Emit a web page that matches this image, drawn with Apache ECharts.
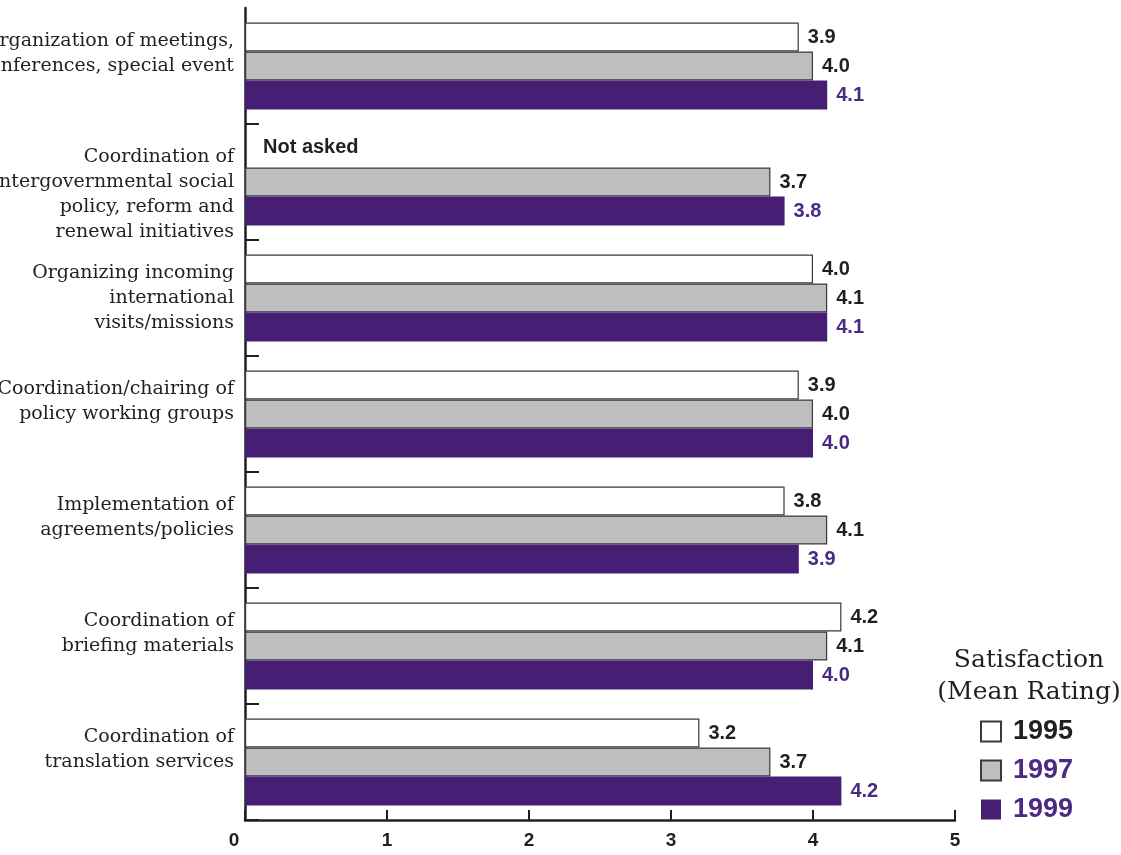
<!DOCTYPE html>
<html>
<head>
<meta charset="utf-8">
<script src="https://cdn.jsdelivr.net/npm/echarts@6/dist/echarts.min.js"></script>
<style>
  html, body { margin: 0; padding: 0; background: #fff; }
  #chart { width: 1121px; height: 855px; }
</style>
</head>
<body>
<div id="chart"></div>
<script>
// Service categories, listed top to bottom
const categories = [
  'Organization of meetings,\nconferences, special event',
  'Coordination of\nintergovernmental social\npolicy, reform and\nrenewal initiatives',
  'Organizing incoming\ninternational\nvisits/missions',
  'Coordination/chairing of\npolicy working groups',
  'Implementation of\nagreements/policies',
  'Coordination of\nbriefing materials',
  'Coordination of\ntranslation services'
];
const years = ['1995', '1997', '1999'];
// Mean satisfaction ratings per survey year (null = question not asked)
const rating1995 = [3.9, null, 4.0, 3.9, 3.8, 4.2, 3.2];
const rating1997 = [4.0, 3.7, 4.1, 4.0, 4.1, 4.1, 3.7];
const rating1999 = [4.1, 3.8, 4.1, 4.0, 3.9, 4.0, 4.2];
const xTicks = [0, 1, 2, 3, 4, 5];
const notAskedText = 'Not asked';
const legendTitle = 'Satisfaction\n(Mean Rating)';

const INK = '#231f20';
const PURPLE = '#461e74';
const PURPLE_TEXT = '#4b2a86';
const GREY = '#bcbec0';
const SANS = '"Liberation Sans", Arial, sans-serif';
const SERIF = '"DejaVu Serif", serif';
const LINE_H = 25;

// Spacer lines keep the first line of every category label at the same height
const spacerRich = {};
function categoryLabel(text) {
  const n = text.split('\n').length;
  const shift = (n - 3) * LINE_H / 2;       // + moves text down, - moves it up
  if (shift === 0) return text;
  const h = Math.round(Math.abs(shift) * 2) - (shift > 0 ? 3 : 0);
  const key = 'sp' + h;
  spacerRich[key] = { height: h, lineHeight: h, fontSize: 1 };
  return shift > 0 ? '{' + key + '| }\n' + text : text + '\n{' + key + '| }';
}

function valueLabel(color) {
  return {
    show: true,
    position: 'right',
    distance: 9,
    fontFamily: SANS,
    fontWeight: 'bold',
    fontSize: 20,
    color: color,
    formatter: function (p) { return Number(p.value).toFixed(1); }
  };
}

const chart = echarts.init(document.getElementById('chart'), null, { renderer: 'canvas' });

const tickFont = { fontFamily: SANS, fontWeight: 'bold', fontSize: 19, color: INK };

chart.setOption({
  animation: false,
  backgroundColor: '#ffffff',
  grid: { left: 245, top: 8, width: 710, height: 812, containLabel: false, outerBoundsMode: 'none' },
  xAxis: {
    type: 'value',
    min: xTicks[0],
    max: xTicks[xTicks.length - 1],
    interval: 1,
    splitLine: { show: false },
    axisLine: { show: true, lineStyle: { color: INK, width: 2.5 } },
    axisTick: { show: true, inside: true, length: 10, lineStyle: { color: INK, width: 2 } },
    axisLabel: Object.assign({
      margin: 11,
      formatter: function (v) { return v === xTicks[0] ? '{z|' + v + '}' : String(v); },
      rich: { z: Object.assign({ padding: [0, 22, 0, 0] }, tickFont) }
    }, tickFont)
  },
  yAxis: {
    type: 'category',
    inverse: true,
    data: categories,
    axisLine: { show: true, lineStyle: { color: INK, width: 2.5 } },
    axisTick: {
      show: true,
      inside: true,
      length: 14,
      interval: function (i) { return i !== 0; },
      lineStyle: { color: INK, width: 2 }
    },
    axisLabel: {
      interval: 0,
      margin: 11,
      fontFamily: SERIF,
      fontSize: 19,
      lineHeight: LINE_H,
      color: INK,
      formatter: categoryLabel,
      rich: spacerRich
    }
  },
  legend: {
    orient: 'vertical',
    left: 975,
    top: 713,
    itemWidth: 20,
    itemHeight: 20,
    itemGap: 12,
    icon: 'rect',
    selectedMode: false,
    textStyle: { fontFamily: SANS, fontWeight: 'bold', fontSize: 27, padding: [0, 0, 0, 7] },
    data: [
      { name: years[0], textStyle: { color: INK } },
      { name: years[1], textStyle: { color: PURPLE_TEXT } },
      { name: years[2], textStyle: { color: PURPLE_TEXT } }
    ]
  },
  graphic: [{
    id: 'legendTitle',
    type: 'text',
    x: 1029,
    y: 644,
    style: {
      text: legendTitle,
      align: 'center',
      verticalAlign: 'top',
      font: '25px ' + SERIF,
      lineHeight: 32,
      fill: INK
    }
  }],
  series: [
    {
      name: years[0],
      type: 'bar',
      data: rating1995,
      barGap: '0%',
      barCategoryGap: '25%',
      itemStyle: { color: '#ffffff', borderColor: '#3a3a3a', borderWidth: 1.2 },
      label: valueLabel(INK)
    },
    {
      name: years[1],
      type: 'bar',
      data: rating1997,
      barGap: '0%',
      barCategoryGap: '25%',
      itemStyle: { color: GREY, borderColor: '#3a3a3a', borderWidth: 1.2 },
      label: valueLabel(INK)
    },
    {
      name: years[2],
      type: 'bar',
      data: rating1999,
      barGap: '0%',
      barCategoryGap: '25%',
      itemStyle: { color: PURPLE, borderWidth: 0 },
      label: valueLabel(PURPLE_TEXT)
    }
  ]
});

// "Not asked" note placed where the missing 1995 bar would be
const missingIdx = rating1995.indexOf(null);
if (missingIdx >= 0) {
  const p0 = chart.convertToPixel({ gridIndex: 0 }, [0, 0]);
  const p1 = chart.convertToPixel({ gridIndex: 0 }, [0, 1]);
  const band = Math.abs(p1[1] - p0[1]);
  const barW = band * 0.75 / years.length;
  const pm = chart.convertToPixel({ gridIndex: 0 }, [0, missingIdx]);
  chart.setOption({
    graphic: [{
      id: 'notAsked',
      type: 'text',
      x: pm[0] + 18,
      y: pm[1] - barW - 6,
      style: {
        text: notAskedText,
        verticalAlign: 'middle',
        font: 'bold 20px ' + SANS,
        fill: INK
      }
    }]
  });
}
</script>
</body>
</html>
